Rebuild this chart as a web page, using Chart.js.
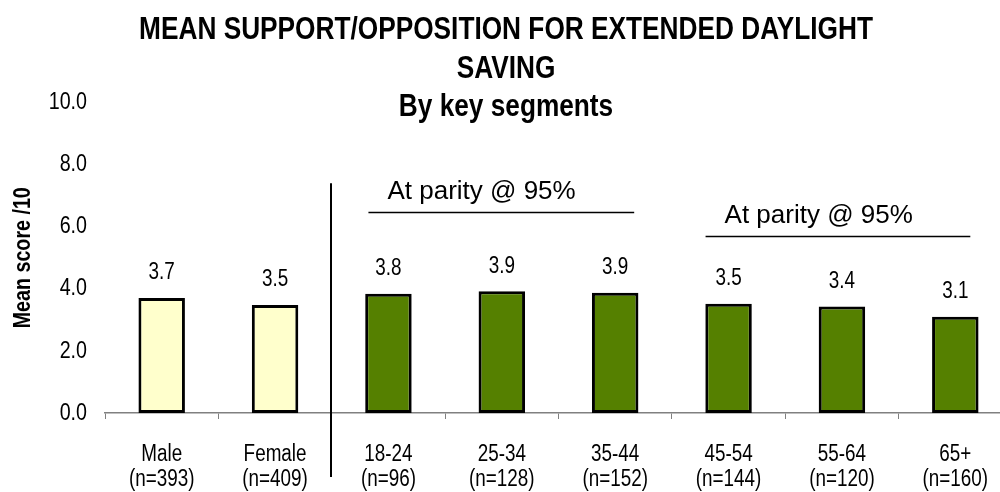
<!DOCTYPE html>
<html>
<head>
<meta charset="utf-8">
<script src="https://cdn.jsdelivr.net/npm/chart.js@4.4.0/dist/chart.umd.min.js"></script>
<style>
html,body{margin:0;padding:0;overflow:hidden;background:#fff;}
#wrap{width:1024px;height:492px;}
</style>
</head>
<body>
<div id="wrap"><canvas id="c" width="1024" height="492"></canvas></div>
<script>
// ---- data ----
const categories = [
  ["Male", "(n=393)"], ["Female", "(n=409)"], ["18-24", "(n=96)"], ["25-34", "(n=128)"],
  ["35-44", "(n=152)"], ["45-54", "(n=144)"], ["55-64", "(n=120)"], ["65+", "(n=160)"]
];
const meanScores = [3.70, 3.48, 3.84, 3.92, 3.87, 3.52, 3.43, 3.10];
const segmentType = ["gender", "gender", "age", "age", "age", "age", "age", "age"];
const yTickValues = [0, 2, 4, 6, 8, 10];
const titleLines = ["MEAN SUPPORT/OPPOSITION FOR EXTENDED DAYLIGHT", "SAVING", "By key segments"];
const yAxisTitle = "Mean score /10";
const parityText = "At parity @ 95%";
const parityGroups = [[2, 4], [5, 7]];      // category index ranges
const parityLevels = [6.48, 5.70];          // y value of each bracket line

// ---- styles ----
const segColors = { gender: "#FFFFCC", age: "#558000" };
const parityInsets = [[20, 19], [23, 15]];

// Arial-Narrow look: Liberation Sans drawn with 0.82 horizontal scale
const NARROW = '"Liberation Sans", narrowx';
const NX = 0.82;
(function () {
  const P = CanvasRenderingContext2D.prototype;
  const oFill = P.fillText, oMeasure = P.measureText;
  P.fillText = function (t, x, y, mw) {
    if (this.font.indexOf("narrowx") >= 0) {
      this.save();
      this.translate(x, y);
      this.scale(NX, 1);
      if (mw !== undefined) oFill.call(this, t, 0, 0, mw / NX); else oFill.call(this, t, 0, 0);
      this.restore();
    } else if (mw !== undefined) oFill.call(this, t, x, y, mw);
    else oFill.call(this, t, x, y);
  };
  P.measureText = function (t) {
    const m = oMeasure.call(this, t);
    if (this.font.indexOf("narrowx") >= 0) {
      return {
        width: m.width * NX,
        actualBoundingBoxAscent: m.actualBoundingBoxAscent,
        actualBoundingBoxDescent: m.actualBoundingBoxDescent,
        actualBoundingBoxLeft: m.actualBoundingBoxLeft * NX,
        actualBoundingBoxRight: m.actualBoundingBoxRight * NX,
        fontBoundingBoxAscent: m.fontBoundingBoxAscent,
        fontBoundingBoxDescent: m.fontBoundingBoxDescent
      };
    }
    return m;
  };
})();
const REG = '"Liberation Sans", Arial, sans-serif';

const annot = {
  id: "annot",
  afterDatasetsDraw(chart) {
    const ctx = chart.ctx;
    const meta = chart.getDatasetMeta(0);
    ctx.save();
    ctx.fillStyle = "#000";
    ctx.font = "23px " + NARROW;
    ctx.textAlign = "center";
    ctx.textBaseline = "middle";
    meta.data.forEach((el, i) => {
      ctx.fillText(meanScores[i].toFixed(1), el.x, el.y - 25);
    });
    ctx.restore();
  },
  afterDraw(chart) {
    const ctx = chart.ctx, xs = chart.scales.x, ys = chart.scales.y, ca = chart.chartArea;
    ctx.save();
    ctx.strokeStyle = "#000";
    ctx.lineWidth = 2;
    const sepX = Math.round((xs.getPixelForValue(1) + xs.getPixelForValue(2)) / 2) - 1;
    ctx.beginPath();
    ctx.moveTo(sepX, ys.getPixelForValue(7.4));
    ctx.lineTo(sepX, ca.bottom + 64);
    ctx.stroke();
    ctx.fillStyle = "#000";
    ctx.font = "26px " + REG;
    ctx.textAlign = "left";
    ctx.textBaseline = "alphabetic";
    parityGroups.forEach((g, i) => {
      const y = Math.round(ys.getPixelForValue(parityLevels[i])) + 0.5;
      const x1 = xs.getPixelForValue(g[0]) - parityInsets[i][0];
      const x2 = xs.getPixelForValue(g[1]) + parityInsets[i][1];
      ctx.lineWidth = 1.6;
      ctx.beginPath();
      ctx.moveTo(x1, y);
      ctx.lineTo(x2, y);
      ctx.stroke();
      ctx.fillText(parityText, x1 + 19, y - 13.5);
    });
    ctx.restore();
  }
};

new Chart(document.getElementById("c"), {
  type: "bar",
  data: {
    labels: categories,
    datasets: [{
      data: meanScores,
      backgroundColor: segmentType.map(t => segColors[t]),
      borderColor: "#000",
      borderWidth: 3,
      borderSkipped: false,
      barPercentage: 0.41,
      categoryPercentage: 1
    }]
  },
  options: {
    responsive: false,
    animation: false,
    devicePixelRatio: 1,
    layout: { padding: { top: 0, right: 12, bottom: 0, left: 0 } },
    plugins: {
      legend: { display: false },
      tooltip: { enabled: false },
      title: {
        display: true,
        text: titleLines,
        color: "#000",
        font: { family: NARROW, size: 32, weight: "bold", lineHeight: "38.5px" },
        padding: { top: 11, bottom: -24 }
      }
    },
    scales: {
      x: {
        grid: { display: true, drawOnChartArea: false, drawTicks: true, tickLength: 6, color: "#808080", offset: true },
        border: { display: true, color: "#808080", width: 1.5 },
        ticks: { color: "#000", font: { family: NARROW, size: 23, lineHeight: "25px" }, padding: 23, maxRotation: 0, autoSkip: false },
        afterFit(s) { s.height = 79; }
      },
      y: {
        min: 0, max: 10,
        afterBuildTicks(s) { s.ticks = yTickValues.map(v => ({ value: v })); },
        grid: { display: false, drawTicks: false },
        border: { display: false },
        ticks: { color: "#000", font: { family: NARROW, size: 24 }, padding: 18, callback: v => Number(v).toFixed(1) },
        title: { display: true, text: yAxisTitle, color: "#000", font: { family: NARROW, size: 24, weight: "bold" }, padding: { top: 9, bottom: 0 } },
        afterFit(s) { s.width = 105; }
      }
    }
  },
  plugins: [annot]
});
</script>
</body>
</html>
